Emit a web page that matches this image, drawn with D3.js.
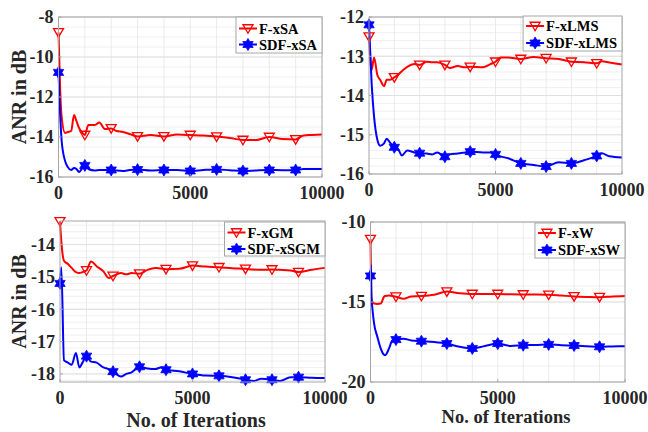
<!DOCTYPE html>
<html>
<head>
<meta charset="utf-8">
<script src="https://cdn.jsdelivr.net/npm/d3@7"></script>
<style>
html,body{margin:0;padding:0;background:#fff;}
svg{display:block;}
svg text{font-family:'Liberation Serif','Times New Roman',Times,'DejaVu Serif',serif;font-weight:700;fill:#262626;}
</style>
</head>
<body>
<svg id="chart" width="648" height="432" font-family="'Liberation Serif', 'Times New Roman', Times, serif"></svg>
<script>
// ---------------- data ----------------
const xTickLabels = [0, 5000, 10000];
const markerIters = [0, 1000, 2000, 3000, 4000, 5000, 6000, 7000, 8000, 9000];

// Panel 1: F-xSA / SDF-xSA
const itersSA = [0, 60, 120, 250, 350, 480, 590, 680, 780, 880, 1000, 1133, 1380, 1550, 1760, 2000, 2200, 2450, 2700, 3000, 3500, 4000, 4500, 5000, 5500, 6000, 6500, 7000, 7500, 8000, 8500, 9000, 9300, 9600, 10000];
const fxSA   = [-8.77, -11.5, -13.0, -13.8, -13.75, -13.7, -12.9, -13.2, -13.55, -13.75, -13.9, -13.4, -13.4, -13.28, -13.6, -13.57, -13.7, -13.75, -13.85, -13.97, -13.9, -13.97, -13.88, -13.9, -13.93, -13.98, -14.05, -14.15, -14.15, -14.0, -14.1, -14.12, -13.92, -13.9, -13.88];
const sdfxSA = [-10.77, -12.8, -14.2, -15.2, -15.5, -15.65, -15.55, -15.6, -15.75, -15.6, -15.42, -15.6, -15.68, -15.65, -15.65, -15.65, -15.68, -15.7, -15.65, -15.63, -15.68, -15.65, -15.65, -15.7, -15.65, -15.62, -15.66, -15.7, -15.67, -15.65, -15.66, -15.65, -15.6, -15.6, -15.6];
const yTicksSA = [-16, -14, -12, -10, -8];

// Panel 2: F-xLMS / SDF-xLMS
const itersLMS = [0, 105, 200, 330, 440, 595, 700, 830, 1000, 1180, 1300, 1510, 1790, 2000, 2290, 2500, 2700, 3000, 3200, 3500, 3800, 4000, 4500, 4800, 5000, 5200, 5500, 6000, 6500, 7000, 7500, 8000, 8500, 9000, 9200, 9500, 10000];
const fxLMS   = [-12.5, -13.35, -13.03, -13.48, -13.6, -13.76, -13.6, -13.6, -13.54, -13.45, -13.38, -13.27, -13.2, -13.22, -13.14, -13.15, -13.15, -13.22, -13.3, -13.25, -13.28, -13.27, -13.28, -13.2, -13.14, -13.03, -13.03, -13.07, -13.02, -13.05, -13.07, -13.14, -13.15, -13.18, -13.13, -13.16, -13.21];
const sdfxLMS = [-12.2, -13.7, -14.54, -15.13, -15.28, -15.22, -15.1, -15.2, -15.32, -15.4, -15.53, -15.4, -15.45, -15.47, -15.48, -15.5, -15.45, -15.56, -15.5, -15.48, -15.45, -15.43, -15.45, -15.45, -15.5, -15.55, -15.6, -15.73, -15.77, -15.81, -15.7, -15.73, -15.65, -15.54, -15.47, -15.55, -15.58];
const yTicksLMS = [-16, -15, -14, -13, -12];

// Panel 3: F-xGM / SDF-xSGM
const itersGM = [0, 50, 150, 300, 440, 600, 730, 850, 1000, 1170, 1380, 1640, 1830, 2000, 2300, 2500, 2700, 3000, 3300, 3600, 3800, 4000, 4500, 5000, 5500, 6000, 6500, 7000, 7300, 7600, 8000, 8300, 8700, 9000, 9500, 10000];
const fxGM    = [-13.28, -13.9, -14.5, -14.6, -14.72, -14.85, -14.88, -14.85, -14.8, -14.52, -14.67, -14.83, -15.03, -14.97, -14.88, -14.92, -14.88, -14.9, -14.78, -14.72, -14.74, -14.76, -14.75, -14.65, -14.68, -14.7, -14.73, -14.75, -14.77, -14.78, -14.77, -14.78, -14.8, -14.85, -14.78, -14.72];
const sdfxSGM = [-15.2, -14.7, -17.57, -17.65, -17.72, -17.35, -17.8, -17.65, -17.45, -17.62, -17.65, -17.8, -17.85, -17.93, -18.08, -18.0, -17.95, -17.78, -17.83, -17.85, -17.8, -17.87, -17.92, -18.0, -18.05, -18.06, -18.1, -18.18, -18.22, -18.15, -18.18, -18.22, -18.1, -18.1, -18.12, -18.13];
const yTicksGM = [-18, -17, -16, -15, -14];

// Panel 4: F-xW / SDF-xSW
const itersW = [0, 20, 35, 80, 140, 270, 400, 530, 570, 730, 860, 1000, 1300, 1600, 2000, 2500, 3000, 3500, 4000, 4500, 5000, 5500, 6000, 6500, 7000, 7500, 8000, 8500, 9000, 9500, 10000];
const fxW    = [-11.07, -13.5, -14.87, -15.0, -15.1, -15.12, -15.1, -14.67, -14.62, -14.6, -14.62, -14.67, -14.8, -14.65, -14.63, -14.55, -14.35, -14.45, -14.5, -14.5, -14.5, -14.52, -14.53, -14.53, -14.55, -14.6, -14.65, -14.68, -14.7, -14.65, -14.62];
const sdfxSW = [-13.37, -12.68, -14.5, -15.5, -16.34, -17.18, -17.9, -18.3, -18.33, -17.9, -17.4, -17.35, -17.3, -17.4, -17.45, -17.5, -17.6, -17.8, -17.9, -17.75, -17.6, -17.75, -17.7, -17.68, -17.65, -17.7, -17.72, -17.76, -17.8, -17.78, -17.76];
const yTicksW = [-20, -15, -10];

const legendSA  = ["F-xSA", "SDF-xSA"];
const legendLMS = ["F-xLMS", "SDF-xLMS"];
const legendGM  = ["F-xGM", "SDF-xSGM"];
const legendW   = ["F-xW", "SDF-xSW"];

const yLabel = "ANR in dB";
const xLabel = "No. of Iterations";

// ---------------- layout ----------------
const panels = [
  {iters: itersSA, red: fxSA, blue: sdfxSA, yTicks: yTicksSA, yDom: [-16, -8], minor: 0.5, legend: legendSA,
   l: 58.5, r: 322, t: 17, b: 177, legY: [28.5, 44.5], legTop: 17, legBot: 53, yLab: true, xLab: false},
  {iters: itersLMS, red: fxLMS, blue: sdfxLMS, yTicks: yTicksLMS, yDom: [-16, -12], minor: 0.2, legend: legendLMS,
   l: 369, r: 622, t: 17, b: 174, legY: [26, 43], legTop: 16, legBot: 51, yLab: false, xLab: false},
  {iters: itersGM, red: fxGM, blue: sdfxSGM, yTicks: yTicksGM, yDom: [-18.25, -13.27], minor: 0.2, legend: legendGM,
   l: 60, r: 325, t: 221, b: 382, legY: [232.5, 249], legTop: 222, legBot: 256, yLab: true, xLab: true, xLabX: 196, xLabY: 427, xLabSize: 20},
  {iters: itersW, red: fxW, blue: sdfxSW, yTicks: yTicksW, yDom: [-20, -10], minor: 1, legend: legendW,
   l: 370.5, r: 625, t: 222, b: 382, legY: [233, 250], legTop: 223, legBot: 258, yLab: false, xLab: true, xLabX: 506, xLabY: 423, xLabSize: 18.5}
];

const svg = d3.select("#chart");
const RED = "#ff0000", BLUE = "#0000ff";
const FONT = "'Liberation Serif', 'Times New Roman', Times, serif";

function hexagram(r) {
  const pts = [];
  for (let i = 0; i < 12; i++) {
    const a = -Math.PI / 2 + i * Math.PI / 6;
    const rr = (i % 2 === 0) ? r : r * 0.577;
    pts.push([rr * Math.cos(a), rr * Math.sin(a)]);
  }
  return "M" + pts.map(p => p[0].toFixed(2) + "," + p[1].toFixed(2)).join("L") + "Z";
}
function triDown(s) {
  return `M${-s},${-s*0.75}L${s},${-s*0.75}L0,${s*0.95}Z`;
}

panels.forEach((p, pi) => {
  const x = d3.scaleLinear().domain([0, 10000]).range([p.l, p.r]);
  const y = d3.scaleLinear().domain(p.yDom).range([p.b, p.t]);
  const g = svg.append("g").attr("font-family", FONT).attr("font-weight", "bold");

  g.append("rect").attr("x", p.l).attr("y", p.t).attr("width", p.r - p.l).attr("height", p.b - p.t).attr("fill", "#fff");

  // minor grid
  const yMinor = [];
  const start = Math.ceil(p.yDom[0] / p.minor - 1e-6);
  for (let k = start; k * p.minor <= p.yDom[1] + 1e-6; k++) yMinor.push(+(k * p.minor).toFixed(3));
  g.append("g").selectAll("line").data(yMinor).join("line")
    .attr("x1", p.l).attr("x2", p.r).attr("y1", d => y(d)).attr("y2", d => y(d))
    .attr("stroke", "#ebebeb").attr("stroke-width", 0.8);
  const xMinor = d3.range(1000, 10000, 1000);
  g.append("g").selectAll("line").data(xMinor).join("line")
    .attr("y1", p.t).attr("y2", p.b).attr("x1", d => x(d)).attr("x2", d => x(d))
    .attr("stroke", "#e6e6e6").attr("stroke-width", 0.8);
  g.append("g").selectAll("line").data(p.yTicks).join("line")
    .attr("x1", p.l).attr("x2", p.r).attr("y1", d => y(d)).attr("y2", d => y(d))
    .attr("stroke", "#dcdcdc").attr("stroke-width", 0.8);

  // lines
  const line = d3.line().x(d => x(d[0])).y(d => y(d[1])).curve(d3.curveMonotoneX);
  const redPts = p.iters.map((it, i) => [it, p.red[i]]);
  const bluePts = p.iters.map((it, i) => [it, p.blue[i]]);
  g.append("path").datum(redPts).attr("d", line).attr("fill", "none").attr("stroke", RED).attr("stroke-width", 2);
  g.append("path").datum(bluePts).attr("d", line).attr("fill", "none").attr("stroke", BLUE).attr("stroke-width", 2);

  // markers
  const redM = redPts.filter(d => markerIters.includes(d[0]));
  const blueM = bluePts.filter(d => markerIters.includes(d[0]));
  g.append("g").selectAll("path").data(redM).join("path")
    .attr("transform", d => `translate(${x(d[0])},${y(d[1])})`)
    .attr("d", triDown(5)).attr("fill", "none").attr("stroke", RED).attr("stroke-width", 1.3);
  g.append("g").selectAll("path").data(blueM).join("path")
    .attr("transform", d => `translate(${x(d[0])},${y(d[1])})`)
    .attr("d", hexagram(6)).attr("fill", BLUE).attr("stroke", BLUE).attr("stroke-width", 0.8);

  // axes box
  g.append("rect").attr("x", p.l).attr("y", p.t).attr("width", p.r - p.l).attr("height", p.b - p.t)
    .attr("fill", "none").attr("stroke", "#a6a6a6").attr("stroke-width", 1);

  // y ticks
  g.append("g").selectAll("line").data(p.yTicks).join("line")
    .attr("x1", p.l).attr("x2", p.l + 3).attr("y1", d => y(d)).attr("y2", d => y(d))
    .attr("stroke", "#a6a6a6");
  g.append("g").selectAll("text").data(p.yTicks).join("text")
    .attr("x", p.l - 5).attr("y", d => y(d)).attr("dy", "0.35em")
    .attr("text-anchor", "end").attr("font-size", 18).text(d => d);
  // x ticks
  g.append("g").selectAll("line").data(xTickLabels).join("line")
    .attr("x1", d => x(d)).attr("x2", d => x(d)).attr("y1", p.b).attr("y2", p.b - 3)
    .attr("stroke", "#a6a6a6");
  g.append("g").selectAll("text").data(xTickLabels).join("text")
    .attr("x", d => x(d)).attr("y", p.b + 22)
    .attr("text-anchor", "middle").attr("font-size", 18).text(d => d);

  if (p.yLab) {
    const cy = (p.t + p.b) / 2;
    g.append("text").attr("transform", `translate(26,${cy}) rotate(-90)`)
      .attr("text-anchor", "middle").attr("font-size", 20).text(yLabel);
  }
  if (p.xLab) {
    g.append("text").attr("x", p.xLabX).attr("y", p.xLabY)
      .attr("text-anchor", "middle").attr("font-size", p.xLabSize).text(xLabel);
  }

  // legend
  const lg = g.append("g");
  const box = lg.append("rect").attr("fill", "#fff").attr("stroke", "#a6a6a6").attr("stroke-width", 1);
  const texts = [];
  p.legend.forEach((name, i) => {
    const t = lg.append("text").attr("y", p.legY[i]).attr("dy", "0.35em").attr("font-size", 14.5)
      .style("fill", "#000").text(name);
    texts.push(t);
  });
  const maxW = d3.max(texts, t => t.node().getComputedTextLength());
  const boxL = p.r - (maxW + 28);
  box.attr("x", boxL).attr("y", p.legTop).attr("width", p.r - boxL).attr("height", p.legBot - p.legTop);
  texts.forEach(t => t.attr("x", boxL + 23));
  const cols = [RED, BLUE];
  p.legend.forEach((name, i) => {
    lg.append("line").attr("x1", boxL + 3).attr("x2", boxL + 21).attr("y1", p.legY[i]).attr("y2", p.legY[i])
      .attr("stroke", cols[i]).attr("stroke-width", 2);
    const m = lg.append("path").attr("transform", `translate(${boxL + 12},${p.legY[i]})`);
    if (i === 0) m.attr("d", triDown(5)).attr("fill", "none").attr("stroke", RED).attr("stroke-width", 1.3);
    else m.attr("d", hexagram(6)).attr("fill", BLUE).attr("stroke", BLUE).attr("stroke-width", 0.8);
  });
});
</script>
</body>
</html>
